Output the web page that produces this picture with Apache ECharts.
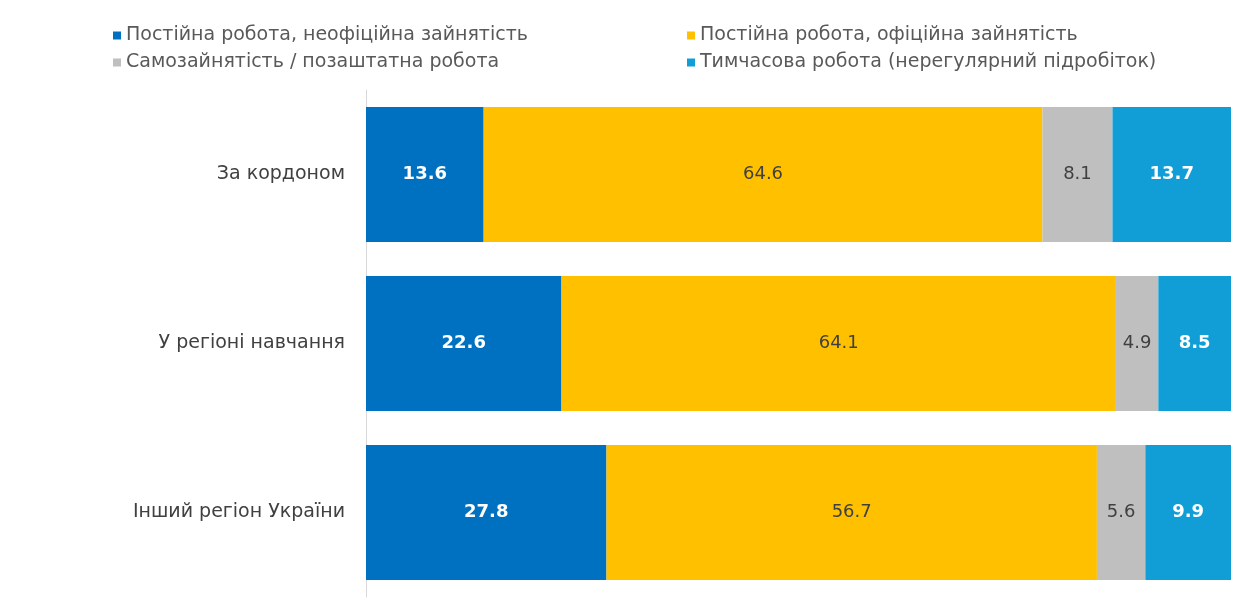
<!DOCTYPE html>
<html>
<head>
<meta charset="utf-8">
<script src="https://cdn.jsdelivr.net/npm/echarts@6/dist/echarts.min.js"></script>
<style>html,body{margin:0;padding:0;background:#fff}#c{width:1248px;height:607px}</style>
</head>
<body>
<div id="c"></div>
<script>
var categories = ['За кордоном', 'У регіоні навчання', 'Інший регіон України'];
var seriesNames = ['Постійна робота, неофіційна зайнятість', 'Постійна робота, офіційна зайнятість', 'Самозайнятість / позаштатна робота', 'Тимчасова робота (нерегулярний підробіток)'];
var informal = [13.6, 22.6, 27.8];
var formal = [64.6, 64.1, 56.7];
var selfEmployed = [8.1, 4.9, 5.6];
var temporary = [13.7, 8.5, 9.9];

var colors = ['#0070C0', '#FFC000', '#BFBFBF', '#119ED6'];
var labelColors = ['#ffffff', '#404040', '#404040', '#ffffff'];
var labelWeights = ['bold', 'normal', 'normal', 'bold'];
var dataSets = [informal, formal, selfEmployed, temporary];
var font = 'DejaVu Sans, sans-serif';
var fs = 19;

var series = dataSets.map(function (d, i) {
  return {
    name: seriesNames[i],
    type: 'bar',
    stack: 'total',
    barWidth: 135,
    data: d,
    itemStyle: { color: colors[i] },
    label: {
      show: true,
      position: 'inside',
      color: labelColors[i],
      fontWeight: labelWeights[i],
      fontSize: 18,
      fontFamily: font,
      formatter: function (p) { return p.value.toFixed(1); }
    }
  };
});

var legendCommon = {
  orient: 'vertical', top: 21,
  itemWidth: 8, itemHeight: 8, itemGap: 8, icon: 'rect',
  textStyle: { color: '#595959', fontSize: fs, fontFamily: font, lineHeight: 19 }
};

var chart = echarts.init(document.getElementById('c'));
chart.setOption({
  animation: false,
  legend: [
    Object.assign({}, legendCommon, { left: 108, data: [seriesNames[0], seriesNames[2]] }),
    Object.assign({}, legendCommon, { left: 682, data: [seriesNames[1], seriesNames[3]] })
  ],
  grid: { left: 366, right: 17, top: 90, bottom: 10, containLabel: false },
  xAxis: {
    type: 'value', min: 0, max: 100,
    show: false
  },
  yAxis: {
    type: 'category',
    inverse: true,
    data: categories,
    axisLine: { show: true, lineStyle: { color: '#D9D9D9', width: 1 } },
    axisTick: { show: false },
    axisLabel: { color: '#404040', fontSize: fs, fontFamily: font, margin: 21 }
  },
  series: series
});
</script>
</body>
</html>
